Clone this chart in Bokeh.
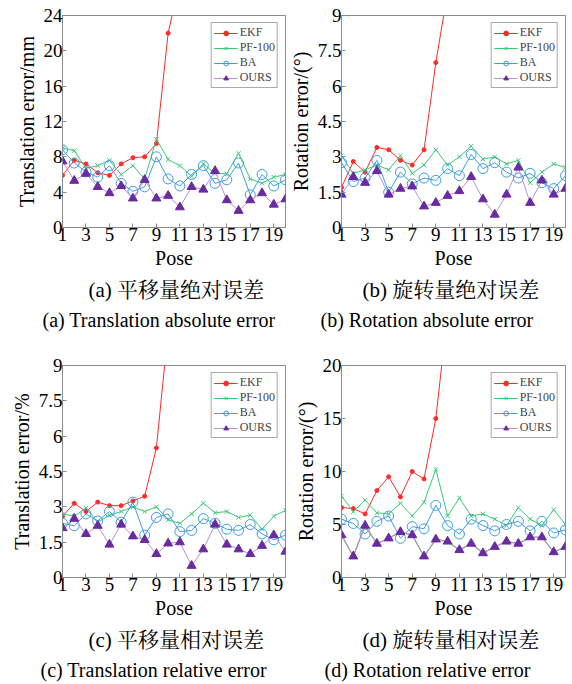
from bokeh.plotting import figure
from bokeh.layouts import gridplot
from bokeh.models import (FixedTicker, CustomJSTickFormatter, Title,
                          Legend, LegendItem, Range1d)
from bokeh.embed import file_html
from bokeh.resources import INLINE

# ---------------- data ----------------
pose = list(range(1, 21))
x_ticks = [1, 3, 5, 7, 9, 11, 13, 15, 17, 19]

# (a) Translation absolute error / mm
a_ekf = [5.9, 7.6, 7.2, 6.2, 5.9, 7.2, 7.9, 8.0, 9.5, 22.0, 28.0]
a_pf = [9.0, 8.7, 6.7, 7.0, 7.6, 6.0, 7.0, 5.5, 10.0, 7.7, 7.0, 5.8, 7.2, 6.1, 6.1, 8.4, 5.5, 5.0, 5.7, 6.0]
a_ba = [8.8, 7.3, 6.3, 5.7, 7.0, 5.0, 4.1, 4.6, 8.0, 5.5, 4.7, 6.0, 7.0, 5.0, 5.4, 7.3, 3.7, 6.0, 4.7, 5.4]
a_ours = [7.5, 5.3, 6.1, 4.6, 3.9, 4.7, 3.3, 5.4, 3.3, 3.6, 2.3, 4.6, 4.3, 6.4, 3.1, 1.9, 3.1, 3.9, 2.6, 3.2]
a_yticks = [0, 4, 8, 12, 16, 20, 24]

# (b) Rotation absolute error / deg
b_ekf = [1.7, 2.8, 2.35, 3.4, 3.3, 2.85, 2.65, 3.3, 7.0, 10.0, 14.0]
b_pf = [3.05, 2.3, 2.45, 2.65, 2.45, 3.05, 2.3, 2.65, 3.3, 2.65, 3.0, 3.45, 2.9, 3.0, 2.7, 2.85, 1.9, 2.35, 2.7, 2.55]
b_ba = [2.75, 1.95, 2.1, 2.85, 1.5, 2.35, 1.85, 2.1, 2.0, 2.5, 2.2, 3.1, 2.5, 2.75, 2.35, 2.1, 2.3, 1.9, 1.65, 2.2]
b_ours = [1.4, 2.15, 1.9, 2.4, 1.4, 1.65, 1.75, 0.9, 1.05, 1.35, 1.55, 2.15, 1.2, 0.55, 1.4, 2.55, 1.05, 2.0, 1.4, 1.65]
b_yticks = [0, 1.5, 3, 4.5, 6, 7.5, 9]

# (c) Translation relative error / %
c_ekf = [2.6, 3.15, 2.8, 3.2, 3.05, 3.05, 3.25, 3.45, 5.5, 10.5]
c_pf = [2.7, 2.6, 2.95, 2.35, 2.65, 2.8, 3.0, 2.8, 3.0, 2.45, 2.3, 2.7, 3.15, 2.75, 2.8, 2.55, 2.65, 2.05, 2.6, 2.85]
c_ba = [2.3, 2.2, 2.7, 2.4, 2.8, 2.35, 3.2, 1.8, 2.55, 2.7, 1.95, 2.0, 2.5, 2.3, 2.05, 2.0, 2.25, 1.85, 1.6, 1.8]
c_ours = [2.1, 2.5, 1.85, 2.2, 1.4, 2.25, 1.75, 1.6, 1.0, 1.45, 1.5, 0.5, 1.2, 2.25, 1.4, 1.2, 1.0, 1.35, 1.8, 1.1]
c_yticks = [0, 1.5, 3, 4.5, 6, 7.5, 9]

# (d) Rotation relative error / deg
d_ekf = [6.6, 6.5, 6.0, 8.2, 9.5, 7.6, 10.0, 9.3, 15.0, 25.0]
d_pf = [7.7, 6.2, 7.3, 6.1, 6.0, 7.0, 5.8, 7.1, 10.2, 5.8, 7.5, 5.8, 6.0, 5.5, 4.9, 6.6, 5.5, 4.9, 6.4, 5.0]
d_ba = [5.5, 5.1, 4.1, 5.3, 5.8, 3.7, 4.8, 4.6, 6.8, 4.9, 4.1, 5.5, 4.9, 4.4, 5.0, 5.3, 4.4, 5.3, 4.2, 4.5]
d_ours = [4.0, 2.0, 4.9, 3.2, 3.7, 4.3, 4.0, 2.0, 3.6, 3.4, 2.6, 3.2, 2.3, 2.9, 3.4, 3.2, 3.8, 3.8, 2.4, 2.9]
d_yticks = [0, 5, 10, 15, 20]

series_names = ["EKF", "PF-100", "BA", "OURS"]

# ---------------- style ----------------
SERIF = "Liberation Serif"
CAP_FONT = "Liberation Serif, Noto Serif CJK SC, Noto Sans CJK SC"
RED = "#ff2a2a"
GREEN = "#3cc878"
BLUE = "#3d9de0"
PURPLE = "#6a2aa0"
PURPLE_LINE = "#b590dc"
GREY_LINE = "#a0a0a0"
AXIS_COL = "#8c8c8c"

FIG_W, FIG_H = 286, 342


def style_axis(ax):
    ax.axis_line_color = AXIS_COL
    ax.major_tick_line_color = AXIS_COL
    ax.major_tick_in = 4
    ax.major_tick_out = 0
    ax.minor_tick_line_color = None
    ax.major_label_text_font = SERIF
    ax.major_label_text_font_size = "19px"
    ax.major_label_text_color = "black"
    ax.axis_label_text_font = SERIF
    ax.axis_label_text_font_size = "20px"
    ax.axis_label_text_font_style = "normal"
    ax.axis_label_text_color = "black"
    ax.major_label_standoff = 0
    ax.axis_label_standoff = 3


def make(ekf, pf, ba, ours, ymax, yticks, ylabel, cap1, cap2,
         lb, rb, tb, bb, ours_line, cap1_off, cap2_off):
    p = figure(width=FIG_W, height=FIG_H, output_backend="svg", toolbar_location=None,
               x_range=Range1d(1, 20), y_range=Range1d(0, ymax),
               min_border_left=lb, min_border_right=rb, min_border_top=tb,
               min_border_bottom=bb, outline_line_color=AXIS_COL)
    p.grid.visible = False
    p.xaxis.ticker = FixedTicker(ticks=x_ticks)
    p.yaxis.ticker = FixedTicker(ticks=yticks)
    p.yaxis.formatter = CustomJSTickFormatter(code="return tick.toString();")
    p.xaxis.axis_label = "Pose"
    p.yaxis.axis_label = ylabel
    style_axis(p.xaxis[0])
    style_axis(p.yaxis[0])

    xe = pose[:len(ekf)]
    l1 = p.line(xe, ekf, line_color=RED, line_width=1)
    s1 = p.scatter(xe, ekf, marker="circle", size=4, fill_color=RED, line_color=RED)
    l2 = p.line(pose, pf, line_color=GREEN, line_width=1)
    s2 = p.scatter(pose, pf, marker="x", size=6, line_color=GREEN, line_width=1)
    l3 = p.line(pose, ba, line_color=BLUE, line_width=1)
    s3 = p.scatter(pose, ba, marker="circle", size=10, fill_color=None,
                   line_color=BLUE, line_width=1)
    l4 = p.line(pose, ours, line_color=PURPLE_LINE, line_width=1)
    if ours_line != PURPLE_LINE:
        # plotted connecting line is grey in this panel (legend keeps purple)
        p.line(pose, ours, line_color=ours_line, line_width=1.3)
    s4 = p.scatter(pose, ours, marker="triangle", size=9, fill_color=PURPLE,
                   line_color=PURPLE)

    rens = [[l1, s1], [l2, s2], [l3, s3], [l4, s4]]
    items = [LegendItem(label=n, renderers=r) for n, r in zip(series_names, rens)]
    leg = Legend(items=items, location="top_right",
                 label_text_font=SERIF, label_text_font_size="12px",
                 border_line_color="#555555", border_line_width=1,
                 background_fill_color="white", background_fill_alpha=1,
                 padding=2, spacing=-2, margin=7, glyph_width=24,
                 glyph_height=12, label_height=12, label_standoff=2)
    p.add_layout(leg)

    t1 = Title(text=cap1, align="left", offset=cap1_off, text_font=CAP_FONT,
               text_font_size="21px", text_font_style="normal", text_color="black",
               standoff=8)
    t2 = Title(text=cap2, align="left", offset=cap2_off, text_font=CAP_FONT,
               text_font_size="20px", text_font_style="normal", text_color="black",
               standoff=3)
    p.add_layout(t1, "below")
    p.add_layout(t2, "below")
    return p


pa = make(a_ekf, a_pf, a_ba, a_ours, 24, a_yticks, "Translation error/mm",
          "(a) 平移量绝对误差", "(a) Translation absolute error", 62, 1, 15, 115,
          PURPLE_LINE, 26, -20)
pb = make(b_ekf, b_pf, b_ba, b_ours, 9, b_yticks, "Rotation error/(°)",
          "(b) 旋转量绝对误差", "(b) Rotation absolute error", 53, 7, 15, 115,
          PURPLE_LINE, 21, -21)
pc = make(c_ekf, c_pf, c_ba, c_ours, 9, c_yticks, "Translation error/%",
          "(c) 平移量相对误差", "(c) Translation relative error", 62, 1, 23, 107,
          PURPLE_LINE, 26, -22)
pd = make(d_ekf, d_pf, d_ba, d_ours, 20, d_yticks, "Rotation error/(°)",
          "(d) 旋转量相对误差", "(d) Rotation relative error", 53, 4, 23, 107,
          GREY_LINE, 21, -17)

grid = gridplot([[pa, pb], [pc, pd]], toolbar_location=None)

open("out.html", "w").write(file_html(grid, INLINE))
